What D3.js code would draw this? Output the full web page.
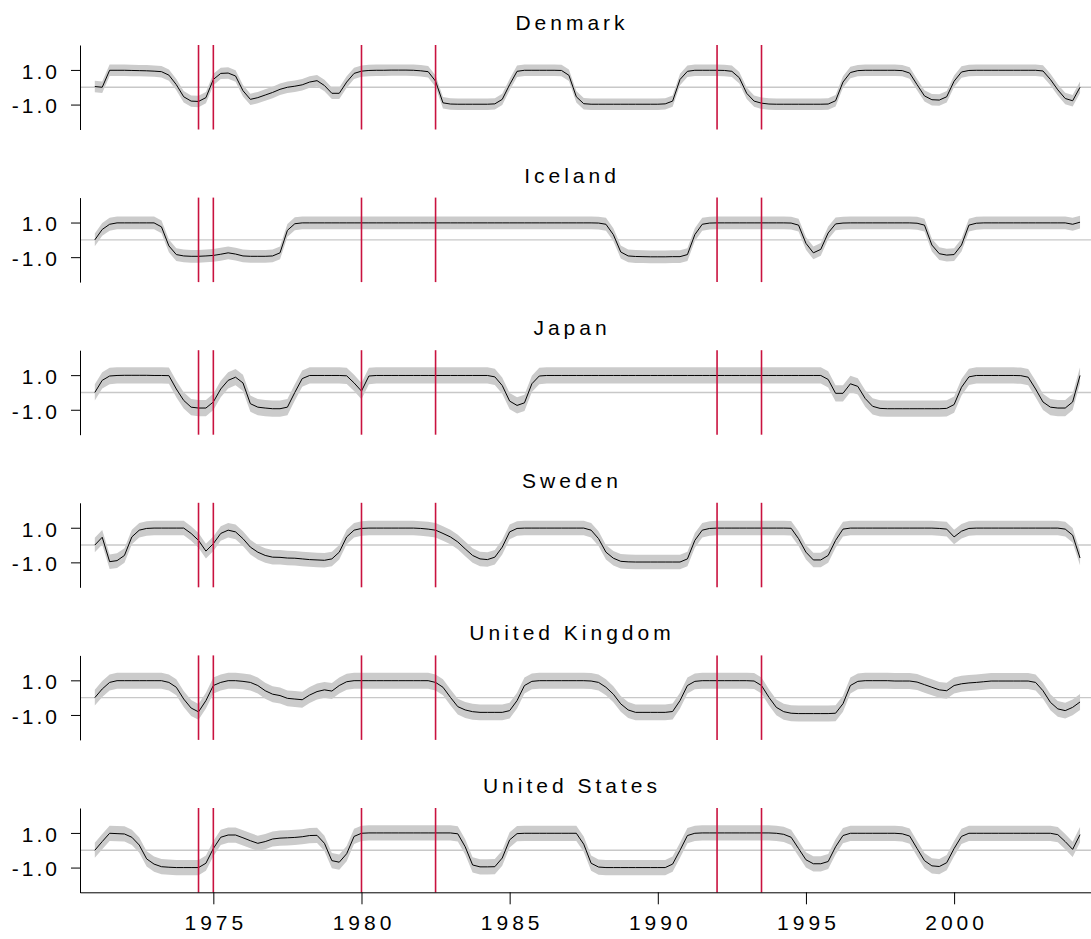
<!DOCTYPE html>
<html><head><meta charset="utf-8">
<script src="https://cdn.jsdelivr.net/npm/d3@7"></script>
<style>body{margin:0;background:#fff}svg{display:block}</style>
</head><body><svg id="chart" width="1091" height="939"></svg>
<script>
// ---- data (quarterly, 1971Q1 .. 2004Q2) ----
const startYear = 1971;
const periodsPerYear = 4;
const countries = ["Denmark", "Iceland", "Japan", "Sweden", "United Kingdom", "United States"];

const denmark = [0.04, 0.00, 0.98, 0.98, 0.98, 0.97, 0.96, 0.95, 0.93, 0.90,
 0.70, 0.15, -0.55, -0.80, -0.82, -0.60, 0.45, 0.80, 0.82, 0.65,
 -0.20, -0.70, -0.60, -0.45, -0.30, -0.12, 0.00, 0.06, 0.14, 0.30,
 0.38, 0.10, -0.35, -0.35, 0.30, 0.80, 0.93, 0.97, 0.98, 0.98,
 0.99, 0.99, 0.99, 0.98, 0.95, 0.90, 0.35, -0.90, -0.97, -0.98,
 -0.98, -0.98, -0.98, -0.98, -0.96, -0.70, 0.15, 0.92, 0.98, 0.98,
 0.98, 0.98, 0.98, 0.97, 0.69, -0.55, -0.95, -0.98, -0.98, -0.98,
 -0.98, -0.98, -0.98, -0.98, -0.98, -0.98, -0.98, -0.96, -0.80, 0.45,
 0.92, 0.98, 0.98, 0.98, 0.98, 0.97, 0.92, 0.55, -0.35, -0.80,
 -0.92, -0.97, -0.98, -0.98, -0.98, -0.98, -0.98, -0.98, -0.98, -0.97,
 -0.78, 0.30, 0.85, 0.96, 0.98, 0.98, 0.98, 0.98, 0.98, 0.96,
 0.82, 0.15, -0.50, -0.72, -0.74, -0.55, 0.35, 0.88, 0.97, 0.98,
 0.98, 0.98, 0.98, 0.98, 0.98, 0.98, 0.98, 0.98, 0.94, 0.45,
 -0.15, -0.65, -0.78, 0.00];

const iceland = [0.00, 0.60, 0.90, 0.98, 0.98, 0.98, 0.98, 0.98, 0.98, 0.75,
 -0.35, -0.85, -0.93, -0.95, -0.95, -0.93, -0.90, -0.83, -0.75, -0.82,
 -0.93, -0.95, -0.95, -0.95, -0.93, -0.75, 0.55, 0.93, 0.98, 0.98,
 0.98, 0.98, 0.98, 0.98, 0.98, 0.98, 0.98, 0.98, 0.98, 0.98,
 0.98, 0.98, 0.98, 0.98, 0.98, 0.98, 0.98, 0.98, 0.98, 0.98,
 0.98, 0.98, 0.98, 0.98, 0.98, 0.98, 0.98, 0.98, 0.98, 0.98,
 0.98, 0.98, 0.98, 0.98, 0.98, 0.98, 0.98, 0.98, 0.97, 0.90,
 0.30, -0.70, -0.93, -0.96, -0.97, -0.98, -0.98, -0.98, -0.97, -0.97,
 -0.85, 0.30, 0.90, 0.97, 0.98, 0.98, 0.98, 0.98, 0.98, 0.98,
 0.98, 0.98, 0.98, 0.98, 0.97, 0.85, -0.20, -0.75, -0.55, 0.40,
 0.92, 0.97, 0.98, 0.98, 0.98, 0.98, 0.98, 0.98, 0.98, 0.98,
 0.98, 0.96, 0.85, -0.30, -0.80, -0.88, -0.85, -0.30, 0.85, 0.96,
 0.98, 0.98, 0.98, 0.98, 0.98, 0.98, 0.98, 0.98, 0.98, 0.98,
 0.98, 0.98, 0.90, 1.02];

const japan = [0.00, 0.70, 0.95, 0.98, 0.99, 0.99, 0.99, 0.99, 0.98, 0.98,
 0.97, 0.20, -0.46, -0.85, -0.90, -0.90, -0.55, 0.20, 0.70, 0.88,
 0.55, -0.65, -0.85, -0.90, -0.94, -0.94, -0.85, 0.00, 0.80, 0.98,
 0.98, 0.98, 0.98, 0.98, 0.96, 0.55, 0.08, 0.95, 0.98, 0.98,
 0.98, 0.98, 0.98, 0.98, 0.98, 0.98, 0.98, 0.98, 0.98, 0.98,
 0.98, 0.98, 0.98, 0.98, 0.90, 0.40, -0.50, -0.75, -0.60, 0.50,
 0.95, 0.98, 0.98, 0.98, 0.98, 0.98, 0.98, 0.98, 0.98, 0.98,
 0.98, 0.98, 0.98, 0.98, 0.98, 0.98, 0.98, 0.98, 0.98, 0.98,
 0.98, 0.98, 0.98, 0.98, 0.98, 0.98, 0.98, 0.98, 0.98, 0.98,
 0.98, 0.98, 0.98, 0.98, 0.98, 0.98, 0.98, 0.98, 0.98, 0.75,
 -0.05, -0.05, 0.50, 0.35, -0.35, -0.80, -0.92, -0.94, -0.94, -0.94,
 -0.94, -0.94, -0.94, -0.94, -0.94, -0.92, -0.70, 0.30, 0.90, 0.98,
 0.98, 0.98, 0.98, 0.98, 0.98, 0.97, 0.88, 0.20, -0.55, -0.85,
 -0.90, -0.90, -0.55, 0.98];

const sweden = [0.00, 0.45, -0.96, -0.90, -0.60, 0.47, 0.86, 0.96, 0.98, 0.98,
 0.98, 0.98, 0.98, 0.67, 0.27, -0.35, 0.08, 0.67, 0.86, 0.76,
 0.37, -0.12, -0.41, -0.60, -0.70, -0.71, -0.75, -0.76, -0.80, -0.84,
 -0.86, -0.88, -0.80, -0.41, 0.47, 0.86, 0.96, 0.98, 0.98, 0.98,
 0.98, 0.98, 0.98, 0.98, 0.96, 0.92, 0.86, 0.67, 0.47, 0.18,
 -0.22, -0.60, -0.80, -0.84, -0.70, -0.12, 0.76, 0.96, 0.98, 0.98,
 0.98, 0.98, 0.98, 0.98, 0.98, 0.98, 0.98, 0.86, 0.37, -0.41,
 -0.76, -0.94, -0.97, -0.98, -0.98, -0.98, -0.98, -0.98, -0.98, -0.98,
 -0.80, 0.27, 0.86, 0.96, 0.98, 0.98, 0.98, 0.98, 0.98, 0.98,
 0.98, 0.98, 0.98, 0.98, 0.97, 0.37, -0.41, -0.86, -0.86, -0.60,
 0.27, 0.92, 0.98, 0.98, 0.98, 0.98, 0.98, 0.98, 0.98, 0.98,
 0.98, 0.98, 0.98, 0.98, 0.96, 0.92, 0.47, 0.80, 0.96, 0.98,
 0.98, 0.98, 0.98, 0.98, 0.98, 0.98, 0.98, 0.98, 0.98, 0.98,
 0.98, 0.92, 0.57, -0.75];

const unitedKingdom = [0.00, 0.50, 0.88, 0.98, 0.98, 0.98, 0.98, 0.98, 0.98, 0.98,
 0.88, 0.60, -0.08, -0.60, -0.82, -0.17, 0.70, 0.88, 0.98, 0.98,
 0.94, 0.88, 0.70, 0.40, 0.20, 0.12, -0.04, -0.08, -0.12, 0.15,
 0.35, 0.45, 0.38, 0.70, 0.92, 0.98, 0.98, 0.98, 0.98, 0.98,
 0.98, 0.98, 0.98, 0.98, 0.98, 0.98, 0.88, 0.60, 0.02, -0.52,
 -0.71, -0.81, -0.85, -0.85, -0.85, -0.85, -0.75, -0.17, 0.70, 0.94,
 0.98, 0.98, 0.98, 0.98, 0.98, 0.98, 0.98, 0.96, 0.88, 0.60,
 0.20, -0.36, -0.71, -0.85, -0.85, -0.85, -0.85, -0.85, -0.80, -0.17,
 0.70, 0.94, 0.98, 0.98, 0.98, 0.98, 0.98, 0.98, 0.98, 0.96,
 0.70, 0.02, -0.56, -0.81, -0.90, -0.92, -0.92, -0.92, -0.92, -0.92,
 -0.90, -0.35, 0.70, 0.94, 0.98, 0.98, 0.98, 0.98, 0.96, 0.96,
 0.96, 0.90, 0.75, 0.60, 0.45, 0.40, 0.70, 0.80, 0.85, 0.88,
 0.92, 0.96, 0.96, 0.96, 0.96, 0.96, 0.96, 0.88, 0.40, -0.27,
 -0.65, -0.75, -0.56, -0.25];

const unitedStates = [0.00, 0.50, 0.98, 0.96, 0.94, 0.75, 0.30, -0.50, -0.80, -0.95,
 -0.98, -1.00, -1.00, -1.00, -1.00, -0.75, 0.10, 0.75, 0.88, 0.88,
 0.72, 0.55, 0.40, 0.50, 0.65, 0.70, 0.72, 0.74, 0.78, 0.85,
 0.86, 0.40, -0.60, -0.69, -0.20, 0.80, 0.98, 1.00, 1.00, 1.00,
 1.00, 1.00, 1.00, 1.00, 1.00, 1.00, 1.00, 1.00, 1.00, 0.95,
 0.20, -0.85, -0.96, -0.96, -0.95, -0.45, 0.60, 0.96, 0.98, 0.98,
 0.98, 0.98, 0.98, 0.98, 0.98, 0.98, 0.35, -0.75, -0.97, -1.00,
 -1.00, -1.00, -1.00, -1.00, -1.00, -1.00, -1.00, -1.00, -0.80, 0.00,
 0.85, 0.98, 1.00, 1.00, 1.00, 1.00, 1.00, 1.00, 1.00, 1.00,
 1.00, 1.00, 0.98, 0.92, 0.75, 0.10, -0.55, -0.78, -0.78, -0.65,
 0.20, 0.85, 0.98, 0.98, 0.98, 0.98, 0.98, 0.98, 0.98, 0.95,
 0.82, 0.10, -0.60, -0.90, -0.94, -0.72, 0.10, 0.80, 0.98, 0.98,
 0.98, 0.98, 0.98, 0.98, 0.98, 0.98, 0.98, 0.98, 0.98, 0.98,
 0.90, 0.50, 0.05, 0.90];

// half-width of the grey uncertainty band, per country
const bandHalfWidth = [0.33, 0.37, 0.47, 0.42, 0.46, 0.44];
// dates of the vertical red event lines
const eventYears = [1974.5, 1975, 1980, 1982.5, 1992, 1993.5];
const xTickValues = [1975, 1980, 1985, 1990, 1995, 2000];
const yTickValues = [1.0, -1.0];

const seriesList = [denmark, iceland, japan, sweden, unitedKingdom, unitedStates];

// ---- drawing ----
const svg = d3.select("#chart");
svg.append("rect").attr("width", 1091).attr("height", 939).attr("fill", "#fff");

const FONT = "'Liberation Sans', Arial, Helvetica, sans-serif";
const x = d3.scaleLinear().domain([1970.5, 2004.62]).range([80, 1091]);
const panelTop0 = 45, panelStep = 152.6, panelH = 84.5;

seriesList.forEach((vals, k) => {
  const top = panelTop0 + panelStep * k;
  const y = d3.scaleLinear().domain([-2.44, 2.44]).range([top + panelH, top]);
  const g = svg.append("g");
  const pts = vals.map((v, i) => ({ t: startYear + i / periodsPerYear, v }));
  const h = bandHalfWidth[k];

  // title
  g.append("text")
    .attr("x", 572).attr("y", 30 + panelStep * k)
    .attr("text-anchor", "middle")
    .style("font-family", FONT).style("font-size", "21px")
    .style("letter-spacing", "4px").attr("fill", "#000")
    .text(countries[k]);

  // zero reference line
  g.append("line")
    .attr("x1", x.range()[0]).attr("x2", x.range()[1])
    .attr("y1", y(0)).attr("y2", y(0))
    .attr("stroke", "#c8c8c8").attr("stroke-width", 1.4);

  // band
  g.append("path").datum(pts)
    .attr("d", d3.area().x(d => x(d.t)).y0(d => y(d.v - h)).y1(d => y(d.v + h)))
    .attr("fill", "#cbcbcb");

  // line
  g.append("path").datum(pts)
    .attr("d", d3.line().x(d => x(d.t)).y(d => y(d.v)))
    .attr("fill", "none").attr("stroke", "#000").attr("stroke-width", 1);

  // red event lines
  g.selectAll(".ev").data(eventYears).enter().append("line")
    .attr("x1", d => x(d)).attr("x2", d => x(d))
    .attr("y1", top).attr("y2", top + panelH)
    .attr("stroke", "#c9123f").attr("stroke-width", 1.6);

  // y axis
  const ya = g.append("g").attr("transform", "translate(80,0)")
    .call(d3.axisLeft(y).tickValues(yTickValues).tickFormat(d => d.toFixed(1))
      .tickSize(9).tickSizeOuter(0).tickPadding(11));
  ya.select(".domain").attr("stroke", "#000");
  ya.selectAll(".tick line").attr("stroke", "#000");
  ya.selectAll("text").attr("dy", "0.4em")
    .style("font-family", FONT).style("font-size", "21px")
    .style("letter-spacing", "3px").attr("fill", "#000");
  ya.attr("font-size", null).attr("font-family", null);
});

// x axis at the bottom
const xa = svg.append("g").attr("transform", "translate(0,892.3)")
  .call(d3.axisBottom(x).tickValues(xTickValues).tickFormat(d3.format("d"))
    .tickSize(12).tickSizeOuter(0).tickPadding(11));
xa.select(".domain").attr("stroke", "#000");
xa.selectAll(".tick line").attr("stroke", "#000");
xa.selectAll("text")
  .style("font-family", FONT).style("font-size", "21px")
  .style("letter-spacing", "4px").attr("fill", "#000")
  .attr("dx", "2px");
xa.attr("font-size", null).attr("font-family", null);
</script></body></html>
